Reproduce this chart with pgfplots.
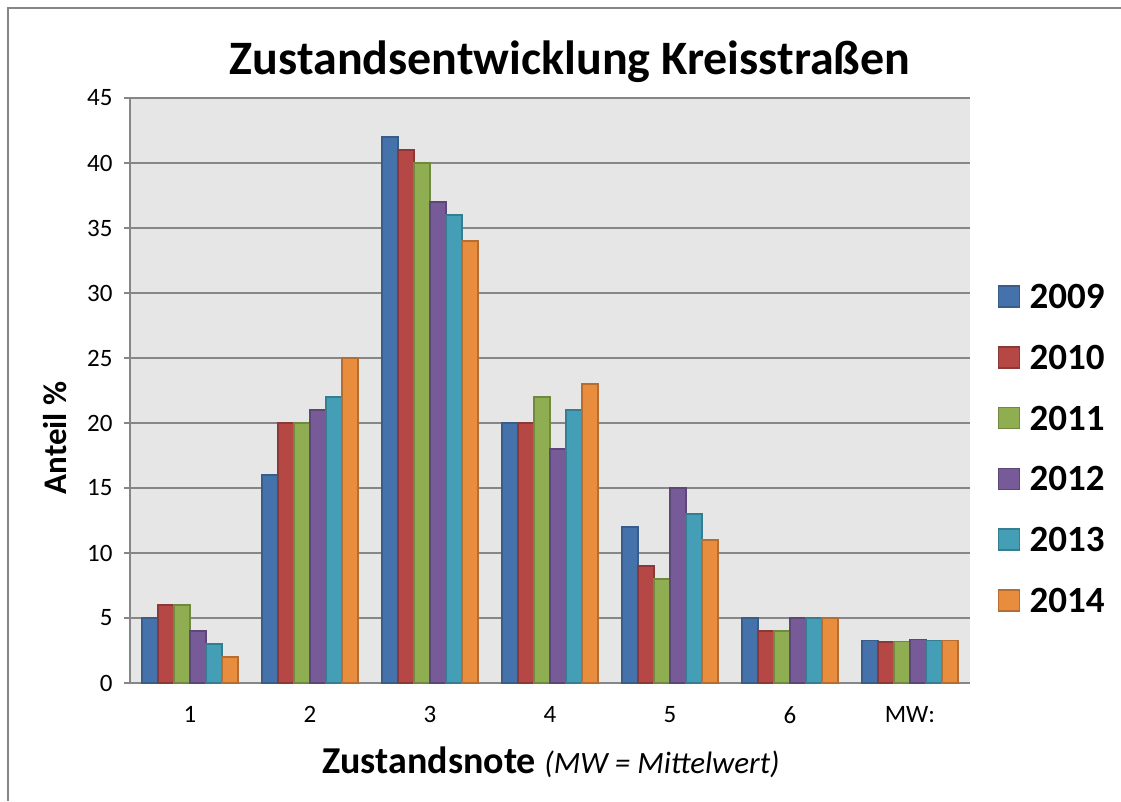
\documentclass[border=0pt]{standalone}
\usepackage{pgfplots}
\pgfplotsset{compat=1.18}
\usepackage{fontspec}
\setmainfont{Carlito}
\definecolor{axgray}{HTML}{868686}
\definecolor{bgray}{HTML}{E6E6E6}
\definecolor{c1}{HTML}{4672AC}\definecolor{e1}{HTML}{385D8A}
\definecolor{c2}{HTML}{B54744}\definecolor{e2}{HTML}{8C3836}
\definecolor{c3}{HTML}{8FAD51}\definecolor{e3}{HTML}{71893F}
\definecolor{c4}{HTML}{775B98}\definecolor{e4}{HTML}{5C4776}
\definecolor{c5}{HTML}{449EB6}\definecolor{e5}{HTML}{357D91}
\definecolor{c6}{HTML}{E88C3E}\definecolor{e6}{HTML}{B66D31}
\pgfplotstableread{
x y2009 y2010 y2011 y2012 y2013 y2014
0 5 6 6 4 3 2
1 16 20 20 21 22 25
2 42 41 40 37 36 34
3 20 20 22 18 21 23
4 12 9 8 15 13 11
5 5 4 4 5 5 5
6 3.3 3.15 3.2 3.35 3.3 3.3
}\datatable
\begin{document}
\begin{tikzpicture}[x=1pt,y=1pt]
\useasboundingbox (0,0) rectangle (1121,801);
\fill[white] (0,0) rectangle (1121,801);
\draw[axgray,line width=2pt] (8,0) -- (8,793) -- (1121,793);
\begin{axis}[
  at={(130pt,118pt)}, anchor=south west,
  scale only axis, width=840pt, height=585pt,
  axis background/.style={fill=bgray},
  ybar=0pt, bar width=16pt,
  xmin=-0.5, xmax=6.5, ymin=0, ymax=45,
  axis lines*=left,
  axis line style={axgray,line width=2pt,-},
  xtick={0,...,6},
  xticklabels={1,2,3,4,5,6,MW:},
  minor xtick={-0.5,0.5,...,6.5},
  ytick={0,5,...,45},
  ymajorgrids,
  major grid style={axgray,line width=2pt},
  tick align=outside,
  xtick style={draw=none},
  minor x tick style={axgray,line width=2pt},
  minor tick length=9pt,
  ytick style={axgray,line width=2pt},
  major tick length=6pt,
  tick label style={font=\fontsize{25}{29}\selectfont},
  /pgf/number format/assume math mode=true,
  xticklabel style={yshift=-14pt},
  yticklabel style={xshift=-8pt},
  legend style={at={(1.033,0.4)}, anchor=west, draw=none, fill=none,
    font=\fontsize{37}{40}\bfseries\selectfont, row sep=31pt, inner sep=0pt},
  legend cell align=left,
  legend image code/.code={\draw[#1,line width=1.5pt] (0pt,-10pt) rectangle (21pt,11pt);
    \path[draw=none,fill=none] (0pt,0pt) -- (29pt,0pt);},
]
\addplot[fill=c1,draw=e1,line width=1.2pt] table[x=x,y=y2009]{\datatable};
\addplot[fill=c2,draw=e2,line width=1.2pt] table[x=x,y=y2010]{\datatable};
\addplot[fill=c3,draw=e3,line width=1.2pt] table[x=x,y=y2011]{\datatable};
\addplot[fill=c4,draw=e4,line width=1.2pt] table[x=x,y=y2012]{\datatable};
\addplot[fill=c5,draw=e5,line width=1.2pt] table[x=x,y=y2013]{\datatable};
\addplot[fill=c6,draw=e6,line width=1.2pt] table[x=x,y=y2014]{\datatable};
\legend{2009,2010,2011,2012,2013,2014}
\end{axis}
\node[anchor=base,font=\fontsize{48}{52}\bfseries\selectfont] at (570,726) {Zustandsentwicklung Kreisstraßen};
\node[rotate=90,font=\fontsize{33}{37}\bfseries\selectfont] at (55,363) {Anteil \%};
\node[anchor=base] at (551,28) {\fontsize{38}{40}\bfseries\selectfont Zustandsnote \fontsize{31}{34}\mdseries\itshape\selectfont(MW = Mittelwert)};
\end{tikzpicture}
\end{document}
